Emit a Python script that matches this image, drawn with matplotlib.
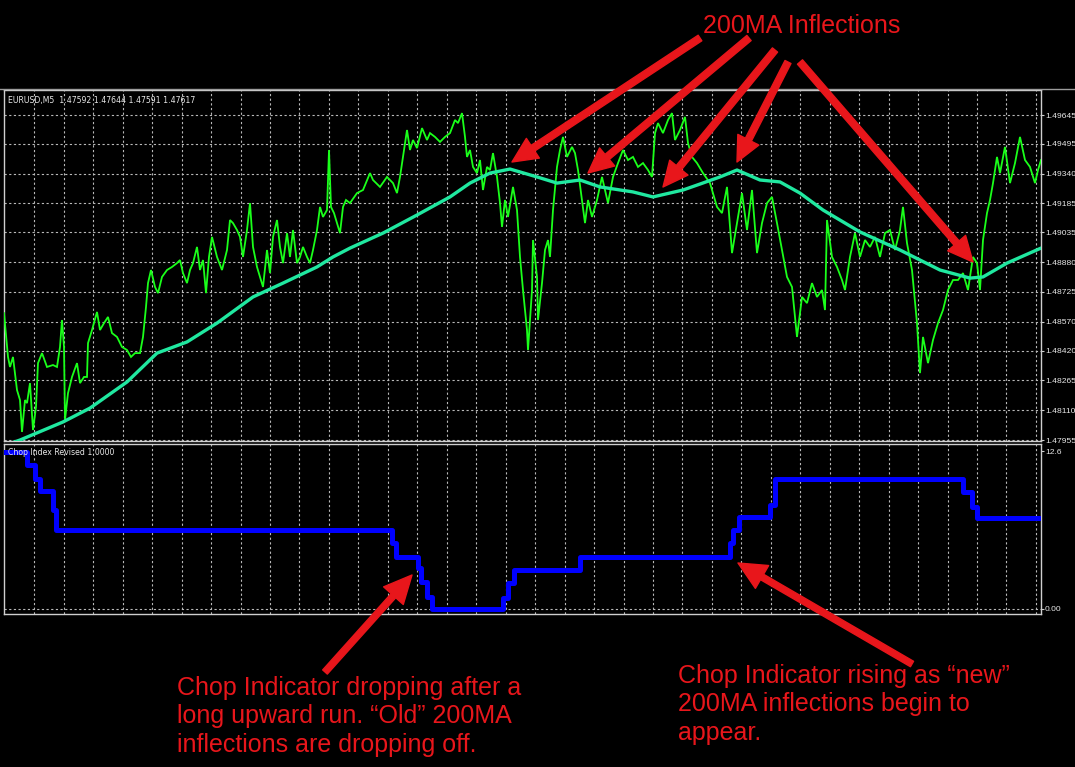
import numpy as np
import matplotlib
matplotlib.use("Agg")
import matplotlib.pyplot as plt
from matplotlib.patches import FancyArrowPatch
from matplotlib.lines import Line2D

# ---------------- data ----------------
# EURUSD M5 closes (bar index, price)
bar_x = [
    4, 8, 10, 13, 17, 20, 22, 25, 27, 30, 33, 36, 38, 42, 47, 53, 57, 60, 62, 64, 65, 68, 72, 77, 80,
    84, 87, 88, 92, 97, 100, 104, 108, 112, 117, 122, 127, 131, 135, 140, 143, 146, 148, 151, 155, 158,
    162, 167, 172, 177, 180, 183, 187, 190, 193, 197, 200, 203, 206, 209, 212, 217, 222, 227, 230, 233,
    237, 240, 243, 247, 250, 253, 257, 260, 263, 267, 270, 273, 277, 280, 283, 287, 290, 293, 297, 300,
    303, 307, 310, 313, 317, 320, 323, 327, 329, 331, 334, 337, 340, 343, 346,
    350, 357, 363, 370, 373, 380, 387, 393, 397, 400, 403, 407, 410, 413, 417, 422, 427, 430, 435, 440,
    445, 450, 455, 458, 462, 465, 467, 470, 473, 477, 480, 483, 487, 490, 493, 497, 500, 502, 505, 508,
    513, 517, 520, 523, 527, 528, 532, 533, 537, 538, 542, 545, 548, 550, 553, 557, 560, 563, 567, 572,
    575, 578, 582, 585, 588, 592, 597, 602, 605, 608, 613, 618, 623, 628, 633, 638, 643, 648, 652, 655,
    658, 663, 668, 672, 675, 680, 685, 688, 692, 697,
    703, 710, 717, 722, 727, 732, 737, 742, 747, 752, 757, 762, 767, 772, 777, 782, 787, 792, 797, 802,
    807, 812, 817, 822, 825, 827, 832, 837, 842, 845, 850, 855, 860, 865, 870, 875, 880, 885, 890, 895,
    900, 903, 907, 912, 917, 920, 923, 928, 933, 938, 943, 948, 953, 958, 963, 968, 973, 977, 980, 983,
    987, 990, 993, 997, 1000, 1005, 1010, 1015, 1020, 1025, 1030, 1035, 1038, 1041,
]
close = [
    1.48615, 1.48387, 1.48335, 1.48387, 1.48215, 1.48163, 1.47997, 1.48163, 1.48147, 1.48251, 1.48007,
    1.48127, 1.48355, 1.48407, 1.48335, 1.48345, 1.48335, 1.48439, 1.48579, 1.48439, 1.48059, 1.48199,
    1.48283, 1.48355, 1.48251, 1.48283, 1.48283, 1.48459, 1.48527, 1.48621, 1.48527, 1.48563, 1.48595,
    1.48511, 1.48491, 1.48439, 1.48423, 1.48387, 1.48407, 1.48407, 1.48491, 1.48647, 1.48771, 1.48839,
    1.48751, 1.48719, 1.48803, 1.48839, 1.48855, 1.48875, 1.48891, 1.48823, 1.48771, 1.48839, 1.48875,
    1.48959, 1.48839, 1.48891, 1.48719, 1.48907, 1.49011, 1.48907, 1.48839, 1.48943, 1.49099, 1.49083,
    1.49047, 1.49011, 1.48907, 1.49047, 1.49187, 1.48959, 1.48855, 1.48803, 1.48751, 1.48943, 1.48823,
    1.49011, 1.49099, 1.48959, 1.48875, 1.49031, 1.48907, 1.49047, 1.48875, 1.48907, 1.48959, 1.48907,
    1.48875, 1.48943, 1.49047, 1.49167, 1.49115, 1.49151, 1.49463, 1.49167, 1.49135, 1.49083, 1.49031,
    1.49167, 1.49203,
    1.49187, 1.49239, 1.49255, 1.49343, 1.49307, 1.49271, 1.49323, 1.49291, 1.49239, 1.49323, 1.49427,
    1.49567, 1.49463, 1.49515, 1.49473, 1.49577, 1.49515, 1.49551, 1.49531, 1.49505, 1.49531, 1.49551,
    1.49619, 1.49603, 1.49655, 1.49531, 1.49427, 1.49463, 1.49375, 1.49343, 1.49411, 1.49255, 1.49375,
    1.49359, 1.49447, 1.49323, 1.49187, 1.49063, 1.49203, 1.49115, 1.49271, 1.49151, 1.48907, 1.48735,
    1.48527, 1.48423, 1.48735, 1.48995, 1.48803, 1.48579, 1.48771, 1.48943, 1.48995, 1.48907, 1.49151,
    1.49375, 1.49463, 1.49531, 1.49427, 1.49479, 1.49447, 1.49359, 1.49203, 1.49083, 1.49203, 1.49115,
    1.49203, 1.49323, 1.49255, 1.49187, 1.49323, 1.49395, 1.49463, 1.49411, 1.49427, 1.49375, 1.49395,
    1.49359, 1.49323, 1.49551, 1.49603, 1.49551, 1.49619, 1.49655, 1.49515, 1.49567, 1.49635, 1.49499,
    1.49427, 1.49395,
    1.49343, 1.49291, 1.49167, 1.49135, 1.49271, 1.48927, 1.49083, 1.49239, 1.49047, 1.49255, 1.48927,
    1.49083, 1.49187, 1.49219, 1.49083, 1.48943, 1.48803, 1.48751, 1.48491, 1.48699, 1.48667, 1.48771,
    1.48699, 1.48735, 1.48631, 1.49099, 1.48907, 1.48855, 1.48787, 1.48735, 1.48907, 1.49031, 1.48907,
    1.48995, 1.48959, 1.49011, 1.48907, 1.49031, 1.49047, 1.48943, 1.49047, 1.49167, 1.48979, 1.48839,
    1.48563, 1.48303, 1.48491, 1.48355, 1.48475, 1.48563, 1.48631, 1.48735, 1.48787, 1.48787, 1.48823,
    1.48735, 1.48907, 1.48875, 1.48735, 1.48995, 1.49135, 1.49203, 1.49291, 1.49427, 1.49343, 1.49479,
    1.49291, 1.49395, 1.49531, 1.49411, 1.49375, 1.49291, 1.49359, 1.49411,
]

# 200-period moving average
ma_x = [0, 20, 63, 90, 127, 157, 187, 217, 253, 283, 317, 333, 350, 383, 417, 450, 470, 490, 510,
        537, 557, 580, 600, 633, 653, 683, 700, 720, 737, 760, 780, 800, 823, 860, 900, 940, 970,
        983, 1007, 1041]
ma_200 = [1.47919, 1.47955, 1.48049, 1.48121, 1.48257, 1.48407, 1.48465, 1.48563, 1.48699, 1.48771,
          1.48855, 1.48907, 1.48953, 1.49031, 1.49125, 1.49219, 1.49291, 1.49343, 1.49364, 1.49323,
          1.49291, 1.49307, 1.49271, 1.49245, 1.49219, 1.49255, 1.49286, 1.49323, 1.49359, 1.49307,
          1.49297, 1.49239, 1.49151, 1.49037, 1.48943, 1.48839, 1.48797, 1.48803, 1.48875, 1.48953]

# Chop Index Revised (value changes at these bars)
chop_x = [4, 27, 35, 40, 53, 56, 392, 396, 418, 421, 427, 432, 503, 508, 514, 580, 730, 733, 739,
          770, 775, 963, 972, 977, 1041]
chop_vals = [12.5, 11.5, 10.4, 9.4, 7.9, 6.3, 5.3, 4.15, 3.3, 2.15, 0.96, 0.0, 0.9, 2.1, 3.1, 4.15,
             5.3, 6.3, 7.3, 8.3, 10.4, 9.3, 8.1, 7.25, 7.25]

price_ticks = [1.49645, 1.49495, 1.49340, 1.49185, 1.49035, 1.48880, 1.48725, 1.48570, 1.48420,
               1.48265, 1.48110, 1.47955]
price_tick_labels = ["1.49645", "1.49495", "1.49340", "1.49185", "1.49035", "1.48880", "1.48725",
                     "1.48570", "1.48420", "1.48265", "1.48110", "1.47955"]
chop_ticks = [0.0, 12.6]
chop_tick_labels = ["0.00", "12.6"]

header = "EURUSD,M5  1.47592 1.47644 1.47591 1.47617"
chop_name = "Chop Index Revised 1.0000"

# ---------------- figure ----------------
W, H = 1075, 767
fig = plt.figure(figsize=(W / 100, H / 100), dpi=100, facecolor="black")


def fx(x):
    return x / W


def fy(y):
    return 1 - y / H


FRAME = "#cfcfcf"
GRID = "#b8b8b8"
TXT = "#e8e8e8"
RED = "#e8161b"
grid_style = dict(color=GRID, lw=0.8, linestyle=(0, (2.0, 2.2)))

ax1 = fig.add_axes([fx(4), fy(441), fx(1041) - fx(4), fy(90) - fy(441)])
ax2 = fig.add_axes([fx(4), fy(614), fx(1041) - fx(4), fy(444) - fy(614)], sharex=ax1)

grid_x = 34.3 + 29.46 * np.arange(35)

for ax in (ax1, ax2):
    ax.set_facecolor("black")
    for s in ax.spines.values():
        s.set_color(FRAME)
        s.set_linewidth(1.0)
    ax.set_xticks(grid_x)
    ax.tick_params(axis="x", length=0, labelbottom=False)
    ax.xaxis.grid(True, **grid_style)
    ax.set_axisbelow(True)
    ax.yaxis.tick_right()
    ax.tick_params(axis="y", colors=FRAME, labelcolor=TXT, labelsize=6.1, length=2,
                   width=0.8, pad=0.8, direction="out")

# price panel
ax1.plot(bar_x, close, color="#1aff1a", lw=1.3, solid_joinstyle="miter", zorder=3)
ax1.plot(ma_x, ma_200, color="#20e8a0", lw=2.4, solid_joinstyle="round",
         solid_capstyle="round", zorder=4)
ax1.set_xlim(bar_x[0], bar_x[-1])
ax1.set_ylim(1.47950, 1.49775)
ax1.set_yticks(price_ticks)
ax1.set_yticklabels(price_tick_labels, family="Liberation Sans")
ax1.yaxis.grid(True, **grid_style)
ax1.text((8 - 4) / 1037, (441 - 100.5) / 351, header, transform=ax1.transAxes,
         color=TXT, fontsize=5.6, family="DejaVu Sans", va="center", ha="left", zorder=6)

# chop panel
ax2.step(chop_x, chop_vals, where="post", color="#0000ff", lw=3.6, zorder=3)
ax2.set_ylim(-0.40, 13.16)
ax2.set_yticks(chop_ticks)
ax2.set_yticklabels(chop_tick_labels, family="Liberation Sans")
ax2.axhline(0.0, zorder=1, **grid_style)
ax2.text((8 - 4) / 1037, (614 - 453) / 170, chop_name, transform=ax2.transAxes,
         color=TXT, fontsize=5.6, family="DejaVu Sans", va="center", ha="left", zorder=6)

# window frame line along the top
fig.add_artist(Line2D([0, 1], [fy(88.5), fy(88.5)], color="#9c9c9c", lw=1.0))

# ---------------- annotations ----------------
tfont = dict(color=RED, fontsize=18, family="Liberation Sans", va="baseline", ha="left")
fig.text(fx(703), fy(33), "200MA Inflections", **tfont)

left_lines = ["Chop Indicator dropping after a",
              "long upward run. \u201cOld\u201d 200MA",
              "inflections are dropping off."]
for i, s in enumerate(left_lines):
    fig.text(fx(177), fy(695 + 28.5 * i), s, **tfont)

right_lines = ["Chop Indicator rising as \u201cnew\u201d",
               "200MA inflections begin to",
               "appear."]
for i, s in enumerate(right_lines):
    fig.text(fx(678), fy(683 + 28.5 * i), s, **tfont)

top_arrows = [((700, 38), (512, 162)),
              ((749, 38), (588, 173)),
              ((775, 50), (663, 187)),
              ((788, 62), (737, 162)),
              ((800, 62), (973, 262))]
for (x0, y0), (x1, y1) in top_arrows:
    fig.add_artist(FancyArrowPatch((fx(x0), fy(y0)), (fx(x1), fy(y1)),
                                   transform=fig.transFigure,
                                   arrowstyle="simple,head_length=1.8,head_width=1.7,tail_width=0.48",
                                   mutation_scale=10, color=RED, shrinkA=0, shrinkB=0, zorder=10))

bottom_arrows = [((325, 672), (412, 575)),
                 ((912, 664), (738, 563))]
for (x0, y0), (x1, y1) in bottom_arrows:
    fig.add_artist(FancyArrowPatch((fx(x0), fy(y0)), (fx(x1), fy(y1)),
                                   transform=fig.transFigure,
                                   arrowstyle="simple,head_length=2.0,head_width=1.9,tail_width=0.45",
                                   mutation_scale=10, color=RED, shrinkA=0, shrinkB=0, zorder=10))

fig.savefig("out.png", dpi=100, facecolor="black")
